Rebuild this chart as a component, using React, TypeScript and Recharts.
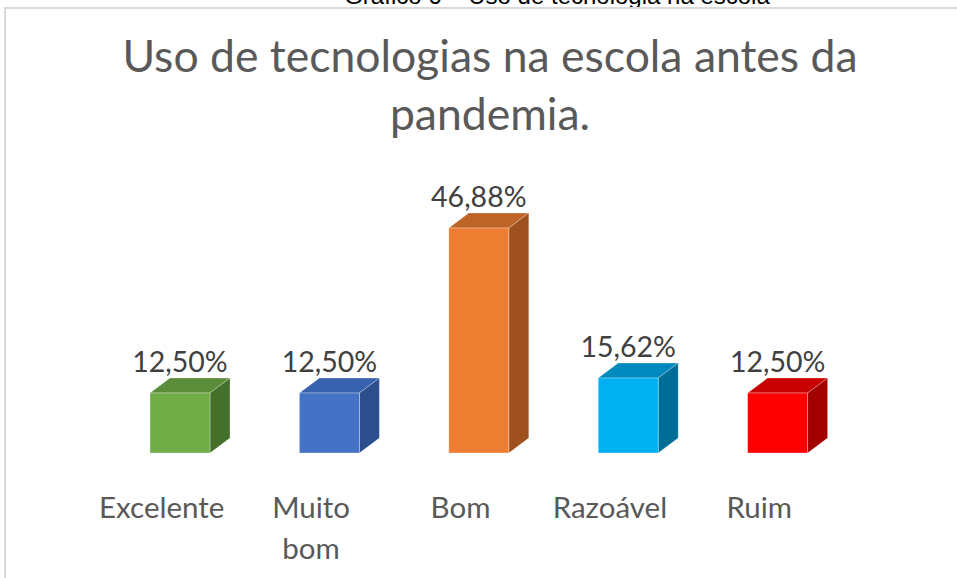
import React from 'react'
import { BarChart, Bar, XAxis, YAxis, LabelList, Cell } from 'recharts'

const categories = ['Excelente', 'Muito bom', 'Bom', 'Razoável', 'Ruim']
const percentages = [12.5, 12.5, 46.88, 15.62, 12.5]
const valueLabels = ['12,50%', '12,50%', '46,88%', '15,62%', '12,50%']
const frontColors = ['#70AD47', '#4472C4', '#ED7D31', '#00B0F0', '#FF0000']
const topColors = ['#5A8C39', '#3862AE', '#BE6427', '#0089BC', '#C80000']
const sideColors = ['#45702C', '#2C4E8C', '#9E511E', '#006D96', '#A30000']

const data = categories.map((name, i) => ({
  name,
  value: percentages[i],
  label: valueLabels[i],
}))

const DX = 20
const DY = 15
const FONT = 'Lato, "Open Sans", sans-serif'

function Box3D(props: any) {
  const { x, y, width, height, index } = props
  const right = x + width
  const bottom = y + height
  return (
    <g>
      <polygon
        points={`${x},${y} ${x + DX},${y - DY} ${right + DX},${y - DY} ${right},${y}`}
        fill={topColors[index]}
        stroke="rgba(255,255,255,0.35)"
        strokeWidth={0.8}
      />
      <polygon
        points={`${right},${y} ${right + DX},${y - DY} ${right + DX},${bottom - DY} ${right},${bottom}`}
        fill={sideColors[index]}
        stroke="rgba(255,255,255,0.35)"
        strokeWidth={0.8}
      />
      <rect
        x={x}
        y={y}
        width={width}
        height={height}
        fill={frontColors[index]}
        stroke="rgba(255,255,255,0.4)"
        strokeWidth={0.8}
      />
    </g>
  )
}

function ValueLabel(props: any) {
  const { x, y, width, index } = props
  return (
    <text
      x={x + width / 2}
      y={y - DY - 6}
      textAnchor="middle"
      fontFamily={FONT}
      fontSize={28.5}
      fill="#404040"
    >
      {valueLabels[index]}
    </text>
  )
}

function CategoryTick(props: any) {
  const { x, y, payload } = props
  const text: string = payload.value
  const lines = text.includes(' ') ? text.split(' ') : [text]
  return (
    <g>
      {lines.map((line, i) => (
        <text
          key={i}
          x={x - 18}
          y={y + 57 + i * 41}
          textAnchor="middle"
          fontFamily={FONT}
          fontSize={29.5}
          fill="#595959"
        >
          {line}
        </text>
      ))}
    </g>
  )
}

export default function App() {
  return (
    <div
      style={{
        position: 'absolute',
        left: 0,
        top: 0,
        width: 957,
        height: 578,
        overflow: 'hidden',
        background: '#fff',
      }}
    >
      <svg width={957} height={578} style={{ position: 'absolute', left: 0, top: 0 }}>
        <text
          x={557}
          y={4}
          textAnchor="middle"
          fontFamily='"Liberation Sans", Arial, sans-serif'
          fontSize={24}
          fill="#000"
        >
          Gráfico 6 – Uso de tecnologia na escola
        </text>
        <rect x={5} y={8} width={1000} height={1000} fill="none" stroke="#d9d9d9" strokeWidth={2} />
        <text x={490} y={72} textAnchor="middle" fontFamily={FONT} fontSize={44.5} fill="#595959">
          Uso de tecnologias na escola antes da
        </text>
        <text x={490} y={130} textAnchor="middle" fontFamily={FONT} fontSize={44.5} fill="#595959">
          pandemia.
        </text>
      </svg>
      <div style={{ position: 'absolute', left: 0, top: 0 }}>
        <BarChart
          width={957}
          height={578}
          data={data}
          margin={{ top: 213, right: 105, bottom: 95, left: 105 }}
          barSize={60}
        >
          <XAxis dataKey="name" axisLine={false} tickLine={false} tick={<CategoryTick />} interval={0} height={30} />
          <YAxis hide domain={[0, 50]} />
          <Bar dataKey="value" shape={<Box3D />} isAnimationActive={false}>
            {data.map((d, i) => (
              <Cell key={d.name} fill={frontColors[i]} />
            ))}
            <LabelList dataKey="label" content={<ValueLabel />} />
          </Bar>
        </BarChart>
      </div>
    </div>
  )
}
